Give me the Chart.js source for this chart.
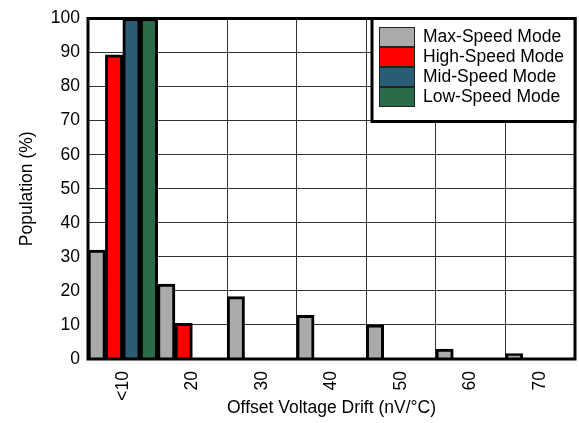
<!DOCTYPE html>
<html>
<head>
<meta charset="utf-8">
<script src="https://cdn.jsdelivr.net/npm/chart.js@4/dist/chart.umd.min.js"></script>
<style>
  html, body { margin: 0; padding: 0; background: #fff; }
  #wrap { width: 579px; height: 423px; }
</style>
</head>
<body>
<div id="wrap"><canvas id="grafico"></canvas></div>
<script>
const categorias = ["<10", "20", "30", "40", "50", "60", "70"];
const maxSpeed  = [32, 22, 18.3, 12.8, 10, 2.9, 1.6];
const highSpeed = [89.3, 10.5, 0, 0, 0, 0, 0];
const midSpeed  = [100, 0, 0, 0, 0, 0, 0];
const lowSpeed  = [100, 0, 0, 0, 0, 0, 0];
const nomes = ["Max-Speed Mode", "High-Speed Mode", "Mid-Speed Mode", "Low-Speed Mode"];
const cores = ["#AAAAAA", "#FF0000", "#2A5C75", "#2A6C49"];

const fonte = 'Arial, "Liberation Sans", sans-serif';
const tamFonte = 17.5;

// moldura do grafico + legenda em caixa
const molduraPlugin = {
  id: 'moldura',
  afterDraw(chart) {
    const ctx = chart.ctx;
    const a = chart.chartArea;
    ctx.save();
    ctx.strokeStyle = '#000';
    ctx.lineWidth = 3;
    ctx.strokeRect(a.left, a.top, a.right - a.left, a.bottom - a.top);

    // legenda
    const bx = 372, by = a.top, bw = a.right - 372, bh = 103;
    ctx.fillStyle = '#fff';
    ctx.fillRect(bx, by, bw, bh);
    ctx.strokeRect(bx, by, bw, bh);
    ctx.font = tamFonte + 'px ' + fonte;
    ctx.textBaseline = 'middle';
    chart.data.datasets.forEach((ds, i) => {
      const y = 27 + i * 20;
      ctx.fillStyle = ds.backgroundColor;
      ctx.fillRect(379, y, 36, 20);
      ctx.lineWidth = 1;
      ctx.strokeStyle = '#222';
      ctx.strokeRect(379.5, y + 0.5, 35, 19);
      ctx.fillStyle = '#000';
      ctx.fillText(ds.label, 423, y + 10.5);
    });
    ctx.restore();
  }
};

const series = [maxSpeed, highSpeed, midSpeed, lowSpeed];

new Chart(document.getElementById('grafico'), {
  type: 'bar',
  data: {
    labels: categorias,
    datasets: series.map((d, i) => ({
      label: nomes[i],
      data: d,
      backgroundColor: cores[i],
      borderColor: '#000',
      borderWidth: 3,
      barPercentage: 1,
      categoryPercentage: 1
    }))
  },
  options: {
    responsive: true,
    maintainAspectRatio: false,
    animation: false,
    layout: { padding: { top: 15, right: 4, left: 0, bottom: 0 } },
    plugins: {
      legend: { display: false },
      tooltip: { enabled: false }
    },
    scales: {
      x: {
        grid: { color: '#333', lineWidth: 1, drawTicks: false, offset: true },
        border: { display: false },
        ticks: {
          color: '#000',
          font: { family: fonte, size: tamFonte },
          minRotation: 90, maxRotation: 90,
          padding: 12
        },
        title: {
          display: true,
          text: 'Offset Voltage Drift (nV/°C)',
          color: '#000',
          font: { family: fonte, size: tamFonte },
          padding: { top: 0, bottom: 4 }
        },
        afterFit(scale) { scale.height = 64; }
      },
      y: {
        min: 0, max: 100,
        grid: { color: '#333', lineWidth: 1, drawTicks: false },
        border: { display: false },
        ticks: {
          stepSize: 10,
          color: '#000',
          font: { family: fonte, size: tamFonte },
          padding: 8
        },
        title: {
          display: true,
          text: 'Population (%)',
          color: '#000',
          font: { family: fonte, size: tamFonte },
          padding: { top: 17, bottom: 0 }
        },
        afterFit(scale) { scale.width = 88; }
      }
    }
  },
  plugins: [molduraPlugin]
});
</script>
</body>
</html>
